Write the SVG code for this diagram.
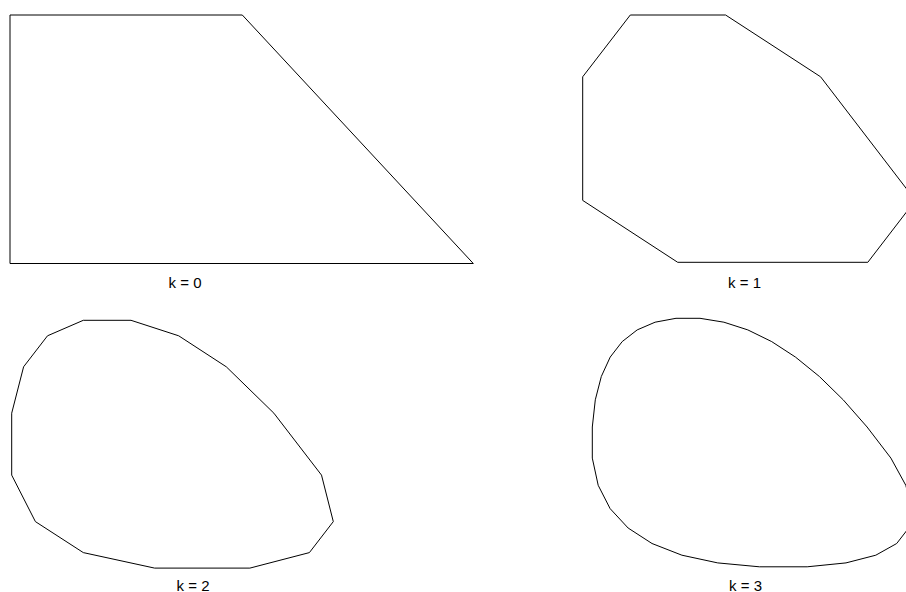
<svg xmlns="http://www.w3.org/2000/svg" width="906" height="592" viewBox="0 0 906 592">
<style>
.shape{fill:none;stroke:#000;stroke-width:1;stroke-linejoin:miter}
.lbl{font-family:"Liberation Sans",Arial,sans-serif;font-size:15px;fill:#000;text-anchor:middle}
</style>
<rect width="906" height="592" fill="#fff"/>
<g id="panel-k0">
<polygon class="shape" points="10,15 242.3,15 473.3,263.5 10,263.5"/>
<text class="lbl" x="185" y="287.5">k = 0</text>
</g>
<g id="panel-k1">
<polygon class="shape" points="630.3,15 725.6,15 820.6,76.8 915.4,200.4 867.8,262.3 677.7,262.3 582.7,200.4 582.7,76.8"/>
<text class="lbl" x="744.5" y="287.5">k = 1</text>
</g>
<g id="panel-k2">
<polygon class="shape" points="83.3,320.3 131,320.3 178.7,335.8 226.3,366.8 273.9,413.2 321.5,475.1 333.3,521.6 309.4,552.6 249.9,568.1 154.6,568.1 83.3,552.6 35.4,521.6 11.7,475.1 11.7,413.2 23.6,366.8 47.5,335.8"/>
<text class="lbl" x="193" y="590.5">k = 2</text>
</g>
<g id="panel-k3">
<polygon class="shape" points="676,318.3 700,318.3 723.9,322.2 747.8,329.9 771.7,341.6 795.5,357.1 819.4,376.5 843.2,399.8 867.1,427 890.9,458.1 905.8,485.3 911.7,508.6 908.7,528 896.7,543.5 875.8,555.2 846,562.9 807.2,566.8 759.4,566.8 717.7,562.9 681.9,555.2 652,543.5 628.1,528 610.1,508.6 598.2,485.3 592.3,458.1 592.3,427 595.3,399.8 601.3,376.5 610.2,357.1 622.2,341.6 637.2,329.9 655.1,322.2"/>
<text class="lbl" x="745.5" y="590.5">k = 3</text>
</g>
<g id="connectors"/>
</svg>
